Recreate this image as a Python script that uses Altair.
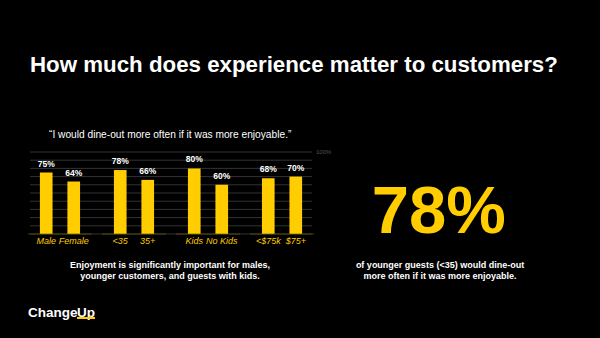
import altair as alt
import pandas as pd

# ---- data ----
labels = ["Male", "Female", "<35", "35+", "Kids", "No Kids", "<$75k", "$75+"]
values = [75, 64, 78, 66, 80, 60, 68, 70]
groups = ["Gender", "Gender", "Age", "Age", "Children", "Children", "Income", "Income"]
slots = [1, 2, 1, 2, 1, 2, 1, 2]
group_order = ["Gender", "Age", "Children", "Income"]
y_ticks = [0, 10, 20, 30, 40, 50, 60, 70, 80, 90, 100]

TITLE = "How much does experience matter to customers?"
SUBTITLE = "\u201cI would dine-out more often if it was more enjoyable.\u201d"
LEFT_NOTE = ["Enjoyment is significantly important for males,",
             "younger customers, and guests with kids."]
BIG_STAT = "78%"
RIGHT_NOTE = ["of younger guests (<35) would dine-out",
              "more often if it was more enjoyable."]

df = pd.DataFrame({"label": labels, "value": values, "group": groups, "slot": slots})
gdf = pd.DataFrame({"group": group_order})
tdf = pd.DataFrame({"tick": y_ticks})

YELLOW = "#FFCD00"
FONT = "Liberation Sans"

yscale = alt.Scale(domain=[0, 100], nice=False)
x = alt.X("group:N", sort=group_order, axis=None,
          scale=alt.Scale(paddingInner=0.19, paddingOuter=0))
xo = alt.XOffset("slot:O", scale=alt.Scale(paddingInner=0.54, paddingOuter=0.36))
y = alt.Y("value:Q", scale=yscale, axis=None)

grid = alt.Chart(tdf).mark_rule(color="#333333", strokeWidth=1).encode(
    y=alt.Y("tick:Q", scale=yscale, axis=None))
top_lbl = alt.Chart(tdf).transform_filter("datum.tick == 100").mark_text(
    align="left", baseline="middle", dx=4, color="#555555", fontSize=6, font=FONT
).encode(y=alt.Y("tick:Q", scale=yscale, axis=None), x=alt.value(282),
         text=alt.value("100%"))

base = alt.Chart(df)
bars = base.mark_bar(color=YELLOW).encode(x=x, xOffset=xo, y=y)
vals = base.transform_calculate(txt="datum.value + '%'").mark_text(
    dy=-4, baseline="bottom", color="white", fontWeight="bold", fontSize=8.5, font=FONT
).encode(x=x, xOffset=xo, y=y, text="txt:N")
cats = base.transform_calculate(zero="0").mark_text(
    dy=7, baseline="middle", fontStyle="italic", color=YELLOW, fontSize=9, font=FONT
).encode(x=x, xOffset=xo, y=alt.Y("zero:Q", scale=yscale, axis=None), text="label:N")
under = alt.Chart(gdf).transform_calculate(zero="0").mark_tick(
    orient="horizontal", size=64, thickness=1, color="#6B5A00"
).encode(x=x, y=alt.Y("zero:Q", scale=yscale, axis=None))


def txt(text, px, py, **kw):
    return alt.Chart(pd.DataFrame({"t": [text]})).mark_text(font=FONT, **kw).encode(
        x=alt.value(px), y=alt.value(py), text="t:N")


layers = [grid, top_lbl, bars, under, vals, cats,
          txt(TITLE, 0, -80.3, align="left", baseline="alphabetic", fontSize=22.3,
              fontWeight="bold", color="white"),
          txt(SUBTITLE, 19, -17, align="left", baseline="middle", fontSize=10.2,
              color="white"),
          txt(BIG_STAT, 341.7, 81, align="left", baseline="alphabetic", fontSize=67,
              fontWeight="bold", color=YELLOW),
          txt(LEFT_NOTE[0], 140, 113, align="center", baseline="middle", fontSize=9,
              fontWeight="bold", color="white"),
          txt(LEFT_NOTE[1], 140, 124, align="center", baseline="middle", fontSize=9,
              fontWeight="bold", color="white"),
          txt(RIGHT_NOTE[0], 410, 113, align="center", baseline="middle", fontSize=9,
              fontWeight="bold", color="white"),
          txt(RIGHT_NOTE[1], 410, 124, align="center", baseline="middle", fontSize=9,
              fontWeight="bold", color="white"),
          txt("Change", -2, 165, align="left", baseline="alphabetic", fontSize=13.5,
              fontWeight="bold", color="white"),
          txt("Up", 47, 165, align="left", baseline="alphabetic", fontSize=13.5,
              fontWeight="bold", color="white"),
          alt.Chart(pd.DataFrame({"a": [0]})).mark_rule(color=YELLOW, strokeWidth=2).encode(
              x=alt.value(47), x2=alt.value(65), y=alt.value(166)),
          ]

chart = alt.layer(*layers).properties(
    width=282, height=82,
    padding={"left": 30, "top": 152, "right": 288, "bottom": 104},
    autosize=alt.AutoSizeParams(type="none"),
    background="black",
).configure_view(stroke=None)

chart.save("out.html", embed_options={"renderer": "svg", "actions": False})
